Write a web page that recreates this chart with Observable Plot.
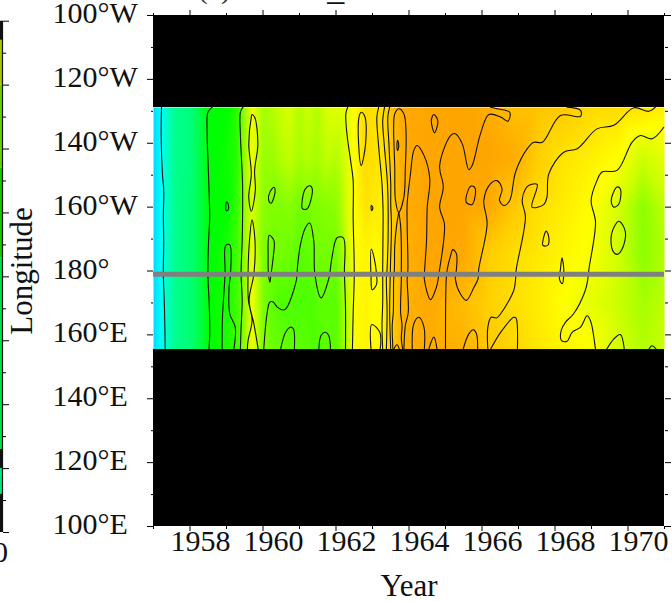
<!DOCTYPE html>
<html>
<head>
<meta charset="utf-8">
<script src="https://cdn.jsdelivr.net/npm/d3@7"></script>
<script src="https://cdn.jsdelivr.net/npm/@observablehq/plot@0.6"></script>
<style>
html,body{margin:0;padding:0;background:#fff;overflow:hidden}
#wrap{position:relative;width:672px;height:602px;overflow:hidden}
#wrap svg{position:absolute;left:0;top:0;background:transparent}
</style>
</head>
<body>
<div id="wrap"></div>
<script>
const gridYears = [1957,1957.1,1957.3,1957.6,1958,1958.3,1958.5,1959,1959.3,1959.45,1959.7,1960,1960.25,1960.5,1960.75,1961,1961.25,1961.5,1961.75,1962,1962.25,1962.5,1962.8,1963.1,1963.3,1963.5,1963.8,1964.5,1965.5,1966.2,1966.9,1967.5,1968.2,1969,1969.7,1970.4,1971];
const gridLons = [231.2,215,200,185,170,155.4];
const level231 = [-0.6,-0.3,0.3,0.9,1.0,1.5,1.95,2.0,2.3,3.0,3.9,3.3,3.4,3.6,3.7,3.4,3.6,3.4,3.7,3.75,3.8,4.0,4.4,4.3,4.4,4.7,4.95,5,5,4.9,4.7,4.65,4.6,4.4,4.4,4.3,4.2];
const level215 = [-0.6,-0.3,0.3,0.9,1.0,1.5,1.95,2.1,2.3,3.0,3.9,3.2,3.2,3.4,3.5,3.3,3.4,3.3,3.5,3.4,3.7,4.0,4.4,4.3,4.3,4.6,4.9,5,5,5,4.9,4.55,4.3,4.15,4.0,3.6,3.8];
const level200 = [-0.6,-0.3,0.3,0.9,1.1,1.5,1.95,2.0,2.4,3.0,3.7,3.1,3.0,3.0,3.05,2.9,2.95,3.0,3.05,3.1,3.6,4.0,4.3,4.2,4.1,4.5,4.9,5,5,4.95,4.6,4.35,4.2,4.0,3.7,3.1,3.5];
const level185 = [-0.6,-0.3,0.3,0.9,1.1,1.5,1.95,2.2,2.5,3.0,3.9,3.0,2.9,2.9,2.85,2.7,2.75,2.9,2.9,2.9,3.4,4.0,4.1,4.0,4.1,4.5,4.85,5,4.95,4.55,4.35,4.25,4.1,3.95,3.65,3.1,3.4];
const level170 = [-0.6,-0.3,0.3,0.9,1.1,1.5,1.95,2.2,2.5,3.0,3.9,3.0,2.75,2.6,2.6,2.6,2.6,2.7,2.75,2.7,3.3,4.0,4.1,4.0,4.1,4.5,4.85,4.95,4.75,4.5,4.35,4.2,4.0,3.8,3.6,3.3,3.5];
const level155 = [-0.6,-0.3,0.3,0.9,1.1,1.5,1.95,2.2,2.5,3.0,3.9,3.0,2.85,2.8,2.75,2.7,2.7,2.6,2.7,2.7,3.3,4.0,4.1,4.0,4.1,4.5,4.85,4.95,4.85,4.6,4.45,4.25,4.1,4.0,3.7,3.4,3.6];
const levelRows = [level231,level215,level200,level185,level170,level155];
const levelStops = [-1,0,1,2,3,4,5];
const levelColors = ["#00bfff","#00ffff","#00ff80","#00ff00","#80ff00","#ffff00","#ffa500"];

// Contour lines as [year, longitude in degrees east]
const openContours = [
 [[1957.22,231.3],[1957.21,222.9],[1957.25,209.4],[1957.28,205.7],[1957.27,196.9],[1957.28,189.6],[1957.27,179.1],[1957.30,168.7],[1957.32,155.4]],
 [[1958.61,231.3],[1958.49,229.7],[1958.47,222.9],[1958.50,212.5],[1958.53,202.1],[1958.54,196.9],[1958.51,189.5],[1958.49,179.1],[1958.53,168.7],[1958.54,160.3],[1958.52,155.4]],
 [[1959.45,231.3],[1959.38,229.7],[1959.38,222.9],[1959.44,207.3],[1959.44,196.9],[1959.43,189.5],[1959.40,179.1],[1959.43,170.8],[1959.40,162.4],[1959.38,155.4]],
 [[1958.88,155.4],[1958.89,165.5],[1958.96,179.1],[1958.98,188],[1959.09,188.2],[1959.11,179.1],[1959.07,174.9],[1959.09,166.6],[1959.24,162.4],[1959.20,155.4]],
 [[1959.87,155.4],[1959.75,163.5],[1959.62,170.8],[1959.75,179.1],[1959.78,189.6],[1959.70,196],[1959.63,189.6],[1959.59,179.1],[1959.60,170.8],[1959.70,164.5],[1959.59,158.2],[1959.57,155.4]],
 [[1960.02,155.4],[1960.11,166.6],[1960.19,170.3],[1960.28,170.3],[1960.39,168.7],[1960.57,167.8],[1960.66,168.7],[1960.84,173.9],[1960.92,177.5],[1960.94,180.7],[1961.03,188.5],[1961.17,193.7],[1961.28,195],[1961.39,189.5],[1961.42,179.1],[1961.59,171.6],[1961.80,177.5],[1961.89,184.3],[1962.03,190.4],[1962.20,190.4],[1962.23,179.1],[1962.26,168.7],[1962.26,155.4]],
 [[1962.32,231.3],[1962.27,229.2],[1962.30,222.9],[1962.40,214.6],[1962.47,208.3],[1962.47,196.9],[1962.50,179.1],[1962.47,166.6],[1962.45,155.4]],
 [[1960.48,155.4],[1960.62,160.8],[1960.75,162.4],[1960.83,161.9],[1960.86,155.4]],
 [[1961.53,155.4],[1961.59,159.8],[1961.71,160.8],[1961.80,159.8],[1961.85,155.4]],
 [[1962.96,155.4],[1962.98,163.2],[1963.20,160.8],[1963.21,155.4]],
 [[1963.17,231.3],[1963.12,228.2],[1963.17,218.8],[1963.26,207.3],[1963.29,198.9],[1963.29,194.2],[1963.28,180.7],[1963.28,170.2],[1963.26,162.9],[1963.28,155.4]],
 [[1963.33,231.3],[1963.28,227],[1963.32,219.8],[1963.41,207.3],[1963.43,194.2],[1963.40,180.7],[1963.38,177.6],[1963.40,167],[1963.38,155.4]],
 [[1963.47,231.3],[1963.42,228.2],[1963.45,219.8],[1963.50,207.3],[1963.50,201],[1963.52,194.2],[1963.49,180.7],[1963.47,167.1],[1963.50,155.4]],
 [[1963.72,198.4],[1963.66,194.2],[1963.61,188],[1963.60,180.7],[1963.58,177.5],[1963.57,167.1],[1963.54,162.9],[1963.56,155.4]],
 [[1963.72,198.4],[1963.77,194.2],[1963.79,188],[1963.79,180.7],[1963.79,177.5],[1963.77,167.1],[1963.81,162.9],[1963.79,158.8],[1963.83,155.4]],
 [[1963.58,155.4],[1963.67,156.9],[1963.74,155.4]],
 [[1963.86,155.4],[1963.90,162.9],[1963.98,167.1],[1963.95,177.5],[1963.97,180.7],[1963.95,194.2],[1963.95,201],[1964.04,210.4],[1964.13,217.7],[1964.22,219.3],[1964.41,216.2],[1964.57,208.9],[1964.50,200],[1964.48,189.5],[1964.43,180.6],[1964.42,177.5],[1964.59,171],[1964.75,174.9],[1964.80,177.5],[1964.84,180.6],[1964.95,189.5],[1964.97,194.8],[1964.84,200],[1964.94,206.3],[1964.84,213],[1965.14,222.4],[1965.27,223],[1965.46,219.8],[1965.64,211.7],[1965.73,213],[1965.96,223],[1966.19,229],[1966.51,228.2],[1966.71,226.9],[1966.76,229.7],[1966.41,230.8],[1966.23,231.3]],
 [[1964.09,155.4],[1964.13,163.4],[1964.27,165.5],[1964.41,162.4],[1964.42,155.4]],
 [[1964.54,155.4],[1964.68,159.3],[1964.77,155.4]],
 [[1965.00,155.4],[1965.02,177.5],[1965.05,180.6],[1965.14,184.8],[1965.20,186.7],[1965.30,185.4],[1965.30,180.6],[1965.27,177.5],[1965.41,172.8],[1965.57,170.8],[1965.78,174.9],[1965.89,177.5],[1965.91,180.6],[1966.14,194.8],[1966.05,202.1],[1966.23,207.3],[1966.41,208.3],[1966.55,205.7],[1966.48,202.1],[1966.60,200.5],[1966.76,202.1],[1966.92,211],[1967.24,218.3],[1967.42,220.3],[1967.65,220.3],[1968.15,228.7],[1968.70,228.4],[1968.70,230.3],[1968.33,231.3]],
 [[1965.48,155.4],[1965.64,160.3],[1965.76,161.6],[1965.85,160.3],[1965.88,155.4]],
 [[1966.16,155.4],[1966.16,162.4],[1966.25,165.5],[1966.40,165.3],[1966.51,166.6],[1966.87,173.9],[1966.92,177.5],[1966.94,180.6],[1967.19,196.9],[1967.10,202.1],[1967.19,205.7],[1967.28,206.8],[1967.51,207.1],[1967.37,200],[1967.69,200.8],[1967.78,203.1],[1967.83,210.4],[1968.24,217.2],[1968.61,218.3],[1969.15,224.5],[1969.61,225.6],[1970.16,231.1],[1970.57,230],[1970.75,231.3]],
 [[1966.23,155.4],[1966.51,160.8],[1966.87,165.5],[1966.93,165.3],[1966.97,155.4]],
 [[1970.98,225],[1970.66,221.4],[1970.34,222.4],[1970.11,220.3],[1969.70,211.5],[1969.29,211],[1969.15,208.3],[1968.99,202.1],[1969.11,195.3],[1968.93,180.6],[1968.90,177.5],[1968.83,173.9],[1968.51,166.6],[1968.29,164],[1968.17,161.4],[1968.18,158.2],[1968.33,158],[1968.47,160.8],[1968.70,162.4],[1968.88,166],[1968.97,164.5],[1969.11,155.4]],
 [[1969.41,155.4],[1969.61,158.7],[1969.79,160.1],[1969.90,155.4]],
 [[1970.57,155.4],[1970.66,156.6],[1970.78,155.4]]
];
const closedContours = [
 [[1959.70,229],[1959.77,228.2],[1959.86,219.8],[1959.77,211.5],[1959.79,205.2],[1959.68,198.7],[1959.61,203.1],[1959.68,210.4],[1959.61,219.8],[1959.68,228.2]],
 [[1959.00,201.6],[1959.05,200.8],[1959.04,199.1],[1958.99,198.9],[1958.98,200.5]],
 [[1960.30,206.2],[1960.33,204.7],[1960.22,201.2],[1960.16,202],[1960.19,204.7]],
 [[1961.28,206.7],[1961.35,205.7],[1961.21,199.5],[1961.08,199.5],[1961.08,202.6],[1961.16,205.7]],
 [[1960.17,191.2],[1960.30,189.5],[1960.28,184.3],[1960.22,179.1],[1960.19,176.5],[1960.15,179.1],[1960.14,184.3]],
 [[1962.69,229.7],[1962.78,228.7],[1962.81,219.8],[1962.69,213],[1962.62,219.8],[1962.63,228.2]],
 [[1962.97,200.5],[1963.01,199.8],[1962.98,198.9],[1962.96,199.8]],
 [[1962.97,186.9],[1963.05,183.8],[1963.11,179.1],[1963.11,175.8],[1962.99,174.1],[1962.96,178]],
 [[1963.72,230.8],[1963.61,229.2],[1963.58,225],[1963.61,212.5],[1963.63,202.1],[1963.72,198.4],[1963.86,203.1],[1963.90,212.5],[1963.92,223],[1963.86,229.2]],
 [[1963.69,220.9],[1963.72,219.3],[1963.69,217.7],[1963.67,219.3]],
 [[1964.68,229],[1964.79,227.1],[1964.70,223.3],[1964.61,227.1]],
 [[1965.70,206.6],[1965.81,206],[1965.73,200.8],[1965.57,201.5],[1965.59,204.2]],
 [[1967.76,192.5],[1967.83,190.6],[1967.80,188],[1967.67,188],[1967.69,190.6]],
 [[1968.19,184.1],[1968.24,180.6],[1968.20,176],[1968.12,177.5],[1968.15,180.6]],
 [[1969.70,206.3],[1969.79,205.7],[1969.75,201],[1969.61,200],[1969.54,202.1]],
 [[1969.75,195.6],[1969.93,192.2],[1969.84,186.9],[1969.70,185.2],[1969.58,186.4],[1969.55,191.6]]
];

// Masked bands above and below the data, and the marked latitude line
const maskBands = [{lo:231.2,hi:260},{lo:100,hi:155.4}];
const markedLon = [179];

// Axes
const yearsMajor = [1958,1960,1962,1964,1966,1968,1970];
const yearsMinor = [1957,1959,1961,1963,1965,1967,1969,1971];
const lonMajor = [100,120,140,160,180,200,220,240,260];
const lonMinor = [110,130,150,170,190,210,230,250];
const lonLabels = ["100°E","120°E","140°E","160°E","180°","160°W","140°W","120°W","100°W"];
const yFormat = v => lonLabels[lonMajor.indexOf(v)];
const noText = () => "";

// Colour bar cut off at the left edge
const barTicksMajor = [0,2,4,6,8,10,12,14,16];
const barTicksMinor = [1,3,5,7,9,11,13,15];
const barFrom = [0,0.6,2,4.6,7.4,13.4,14,14.8];
const barTo = [0.6,2,4.6,7.4,13.4,14,14.8,16];
const barFill = ["#111111","#a8c800","#6cd000","#18c800","#00e050","#111111","#00e880","#111111"];

const field = [];
levelRows.forEach((row,j)=>row.forEach((v,i)=>field.push({year:gridYears[i],lon:gridLons[j],v})));

const lineStyle = {x:d=>d[0],y:d=>d[1],stroke:"#111",strokeWidth:1.1};

const main = Plot.plot({
  width:672,height:602,
  marginLeft:153,marginRight:8,marginTop:15,marginBottom:76,
  x:{domain:[1957,1971],label:null},
  y:{domain:[100,260],label:null},
  color:{type:"linear",domain:levelStops,range:levelColors,interpolate:"rgb",clamp:true},
  style:{fontFamily:"'Liberation Serif'",fontSize:"30px",background:"transparent",overflow:"hidden"},
  marks:[
    Plot.raster(field,{x:"year",y:"lon",fill:"v",interpolate:"barycentric",pixelSize:2,x1:1957,x2:1971,y1:155.4,y2:231.2}),
    ...openContours.map(c=>Plot.line(c,{...lineStyle,curve:"catmull-rom"})),
    ...closedContours.map(c=>Plot.line(c,{...lineStyle,curve:"catmull-rom-closed"})),
    Plot.rect(maskBands,{x1:1957,x2:1971,y1:"lo",y2:"hi",fill:"black"}),
    Plot.ruleY(markedLon,{x1:1957,x2:1971,stroke:"#808080",strokeWidth:5}),
    Plot.axisX({anchor:"bottom",ticks:yearsMajor,tickSize:0,tickFormat:d=>String(d),tickPadding:3,dx:10.5,label:null,fontSize:30,fill:"#111"}),
    Plot.axisX({anchor:"bottom",ticks:yearsMajor,tickSize:5,tickFormat:noText,label:null}),
    Plot.axisX({anchor:"bottom",ticks:yearsMinor,tickSize:3,tickFormat:noText,label:null}),
    Plot.axisX({anchor:"top",ticks:yearsMajor,tickSize:6,tickFormat:noText,label:null}),
    Plot.axisX({anchor:"top",ticks:yearsMinor,tickSize:3,tickFormat:noText,label:null}),
    Plot.axisY({anchor:"left",ticks:lonMajor,tickSize:6,tickFormat:noText,label:null}),
    Plot.axisY({anchor:"left",ticks:lonMinor,tickSize:2,tickFormat:noText,label:null}),
    Plot.axisY({anchor:"right",ticks:lonMajor,tickSize:6,tickFormat:noText,label:null}),
    Plot.axisY({anchor:"right",ticks:lonMinor,tickSize:3,tickFormat:noText,label:null}),
    Plot.text(lonMajor,{y:d=>d,text:yFormat,frameAnchor:"left",dx:-101,dy:-2,textAnchor:"start",fontSize:30,fill:"#111"}),
    Plot.text(["Longitude"],{frameAnchor:"left",dx:-131,rotate:-90,textAnchor:"middle",lineAnchor:"middle",fontSize:31,fill:"#111"}),
    Plot.text(["Year"],{frameAnchor:"bottom",dy:60,lineAnchor:"middle",fontSize:31,fill:"#111"}),
    Plot.text(["(a)"],{x:[1958.67],frameAnchor:"top",dy:-27,lineAnchor:"middle",fontSize:30,fill:"#333"}),
    Plot.text(["_"],{x:[1961.99],frameAnchor:"top",dy:-26,lineAnchor:"middle",fontSize:34,fill:"#111"})
  ]
});

const barIdx = barFrom.map((_,i)=>i);
const bar = Plot.plot({
  width:30,height:602,
  marginLeft:0,marginRight:28,marginTop:20.7,marginBottom:70,
  x:{domain:[0,1],axis:null},
  y:{domain:[0,16],reverse:true,axis:null},
  color:{type:"identity"},
  style:{fontFamily:"'Liberation Serif'",fontSize:"30px",background:"transparent",overflow:"hidden"},
  marks:[
    Plot.rect(barIdx,{x1:0,x2:1,y1:i=>barFrom[i],y2:i=>barTo[i],fill:i=>barFill[i]}),
    Plot.ruleX([1],{stroke:"#111",strokeWidth:1.2}),
    Plot.axisY({anchor:"right",ticks:barTicksMajor,tickSize:6,tickFormat:noText,label:null}),
    Plot.axisY({anchor:"right",ticks:barTicksMinor,tickSize:3,tickFormat:noText,label:null}),
    Plot.text([0],{x:0,y:[16],dy:20,text:d=>String(d),fontSize:30,fill:"#111"})
  ]
});
document.getElementById("wrap").append(main,bar);
</script>
</body>
</html>
